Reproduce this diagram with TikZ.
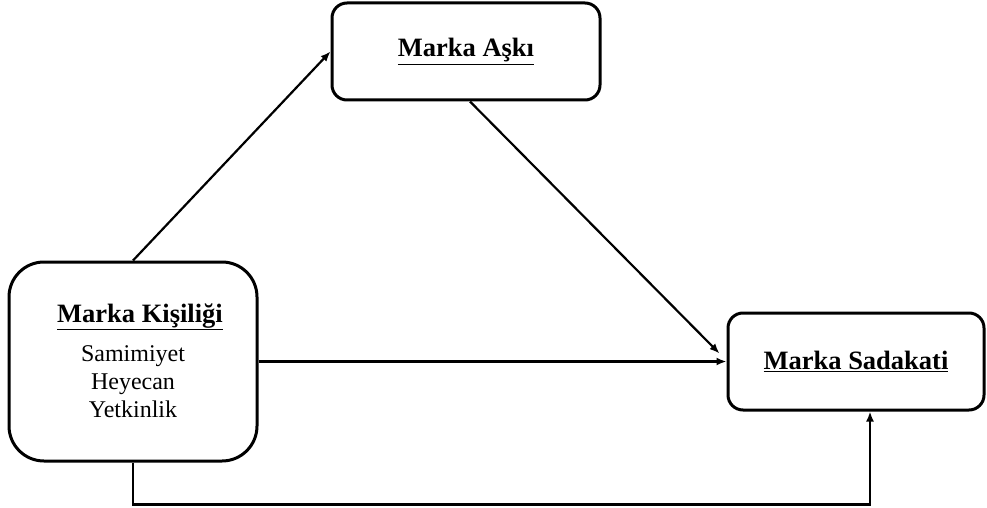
\documentclass[tikz,border=0pt]{standalone}
\usepackage{fontspec}
\setmainfont{Liberation Serif}
\usetikzlibrary{arrows.meta,calc}
\begin{document}
\begin{tikzpicture}[x=1pt,y=-1pt,
  box/.style={draw,line width=3pt,rounded corners=#1,inner sep=0pt,anchor=center},
  conn/.style={line width=2.2pt,-{Latex[length=10pt,width=8pt]}},
  ttl/.style={font=\fontsize{26.5}{30}\selectfont\bfseries},
  sub/.style={font=\fontsize{24}{28}\selectfont}]
\useasboundingbox (0,0) rectangle (987,508);
\node[box=15pt,minimum width=268pt,minimum height=97pt,ttl] (A) at (466,51.5) {\underline{Marka Aşkı}};
\node[box=35pt,minimum width=248pt,minimum height=199pt] (K) at (133,361.5) {};
\node[ttl,anchor=base] (Kt) at (140,322) {\underline{Marka Kişiliği}};
\node[sub,align=center,anchor=north,inner sep=0pt] (Ks) at (133,345.5) {Samimiyet\\Heyecan\\Yetkinlik};
\node[box=15pt,minimum width=256pt,minimum height=97pt,ttl] (S) at (856,361.5) {\underline{Marka Sadakati}};
\draw[conn] (K.north) -- (A.west);
\draw[conn] ([xshift=4pt]A.south) -- ([yshift=8pt,xshift=-7pt]S.west);
\draw[conn] (K.east) -- (S.west);
\draw[conn] (K.south) -- ++(0,42) -| ([xshift=14pt]S.south);
\end{tikzpicture}
\end{document}
